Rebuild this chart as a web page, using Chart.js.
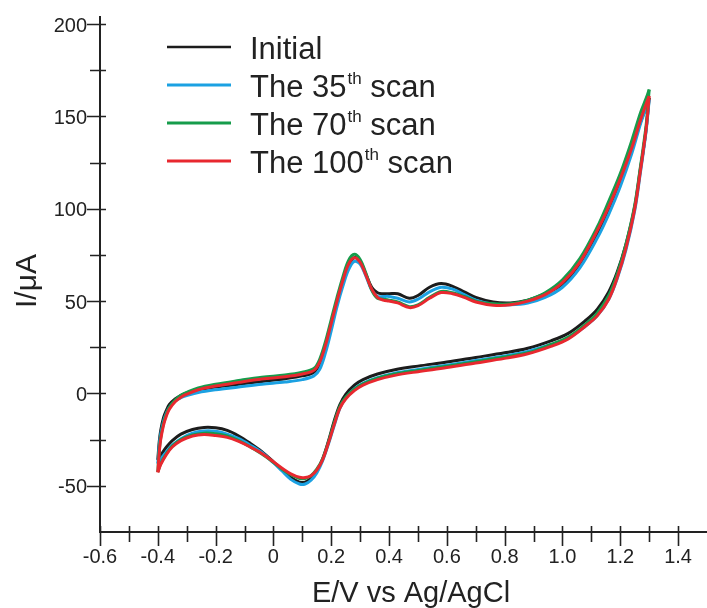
<!DOCTYPE html>
<html>
<head>
<meta charset="utf-8">
<script src="https://cdn.jsdelivr.net/npm/chart.js@4"></script>
<style>
  html, body { margin: 0; padding: 0; background: #fff; }
  canvas { display: block; }
</style>
</head>
<body>
<canvas id="cvChart" width="707" height="608"></canvas>
<script>
// potential sweep (V vs Ag/AgCl): anodic sweep -0.4 -> 1.3, then back to -0.4
var sweepForward = [-0.40, -0.395, -0.39, -0.38, -0.37, -0.36, -0.34, -0.32, -0.30, -0.26,
  -0.20, -0.12, -0.04, 0.04, 0.10, 0.14, 0.16, 0.18, 0.20, 0.22,
  0.24, 0.26, 0.28, 0.30, 0.32, 0.34, 0.36, 0.38, 0.40, 0.43,
  0.47, 0.50, 0.54, 0.58, 0.62, 0.66, 0.70, 0.76, 0.82, 0.88,
  0.94, 1.00, 1.06, 1.12, 1.16, 1.20, 1.24, 1.27, 1.29, 1.30];
var sweepReverse = [1.30, 1.29, 1.28, 1.27, 1.25, 1.22, 1.19, 1.16, 1.12, 1.08,
  1.02, 0.96, 0.88, 0.80, 0.70, 0.60, 0.50, 0.42, 0.36, 0.31,
  0.28, 0.25, 0.23, 0.21, 0.19, 0.17, 0.15, 0.13, 0.11, 0.09,
  0.06, 0.03, 0.00, -0.04, -0.08, -0.12, -0.16, -0.20, -0.24, -0.28,
  -0.32, -0.35, -0.37, -0.39, -0.40];

// current in uA
var initialFwd = [-36, -26, -20, -13, -9, -6, -3, -1, 0.3, 2,
  3.5, 5, 6.5, 8, 9.5, 11.5, 16, 25, 37, 49,
  60, 69, 73.5, 71.5, 64.5, 57.5, 54.5, 54, 54, 54,
  51.5, 53, 57.5, 59.5, 58, 55, 52, 49.5, 49, 50.5,
  54, 59, 70, 86, 99, 114, 132, 147, 155, 160];
var initialRev = [160, 144, 132, 122, 101, 81, 66, 55, 45.5, 39.5,
  32.5, 28.5, 24.5, 22, 19.5, 17, 14.8, 12.8, 10.5, 7.5,
  4.5, -0.5, -6, -15, -26, -35.5, -42, -46, -48, -48,
  -45.5, -41.5, -37, -31.5, -27, -23, -20, -18.6, -18.4, -19.5,
  -22, -25.5, -29, -33.5, -36];

var scan35Fwd = [-38, -28, -22, -15, -10.5, -7.5, -4, -2.3, -1.2, 0.5,
  2, 3.5, 5, 6.2, 7.5, 9.5, 13, 22, 34, 47,
  58, 67, 71.5, 70, 63.5, 56, 52.5, 52.5, 52.5, 51.5,
  49.5, 51, 55, 57.5, 56.5, 53.5, 50.5, 48.3, 48, 49,
  52, 57.5, 68, 84, 97, 112, 130, 146, 155, 159];
var scan35Rev = [159, 143, 131, 120, 99, 78, 62.5, 51, 42, 36.5,
  30, 26.5, 22.8, 20.3, 17.8, 15.3, 13, 11, 8.5, 5.5,
  2.5, -2.5, -8, -17.5, -27.5, -36.5, -43, -47, -49, -49,
  -46.5, -42, -37.5, -32, -28, -24.5, -22, -20.5, -20.3, -21.5,
  -24.5, -28, -31.5, -35.5, -38];

var scan70Fwd = [-42.5, -31, -24, -16, -11, -7.5, -3.5, -1, 0.6, 3,
  5, 7, 8.8, 10, 11.5, 13.5, 18.5, 28, 40, 52,
  63, 72, 75.3, 72.5, 65, 56, 51.5, 51, 50.5, 49.5,
  47, 48, 52, 55.2, 54.5, 52.5, 50, 48.5, 48.5, 50.5,
  54.5, 61.5, 73, 90, 104, 119, 137, 152, 160, 164.5];
var scan70Rev = [164.5, 146, 134, 123, 102, 81, 65, 53, 43.5, 37.5,
  30.5, 26.5, 22, 19.7, 17.2, 14.8, 12.5, 10.5, 8.2, 5.2,
  2.3, -2, -7, -16, -26.5, -35.5, -41, -44.5, -46, -46,
  -44, -41, -37.3, -32.8, -29, -25.5, -23, -21.8, -21.5, -22.5,
  -25, -28.5, -32.5, -38, -42.5];

var scan100Fwd = [-42.7, -32, -25, -17, -12, -8.5, -4.5, -2, -0.4, 2,
  4, 6, 7.8, 9, 10.5, 12.5, 17, 26, 38, 50,
  61, 70, 73.5, 71, 64, 56.5, 52, 50.5, 50, 49,
  46.5, 47.5, 51.5, 54.6, 54, 52, 49.5, 47.8, 48, 50,
  53.5, 60, 71, 88, 101, 116, 133, 148, 157, 161];
var scan100Rev = [161, 144, 132, 121, 100, 79, 63, 51, 42, 36.5,
  29.5, 25.5, 21.5, 19, 16.5, 14, 11.8, 9.8, 7.5, 4.5,
  1.5, -3, -8, -17, -27, -36, -41.5, -44.5, -45.5, -45.4,
  -43.5, -40.5, -37, -32.5, -29, -26, -23.8, -22.8, -22.2, -23,
  -25.5, -29, -33, -38.5, -42.7];

var seriesLabels = ['Initial', 'The 35th scan', 'The 70th scan', 'The 100th scan'];
var seriesColors = ['#1c1c1c', '#1ba1e2', '#169c4b', '#e8282f'];

var xTicks = [-0.6, -0.4, -0.2, 0, 0.2, 0.4, 0.6, 0.8, 1.0, 1.2, 1.4];
var xTickLabels = ['-0.6', '-0.4', '-0.2', '0', '0.2', '0.4', '0.6', '0.8', '1.0', '1.2', '1.4'];
var yTicks = [-50, 0, 50, 100, 150, 200];

var FONT = "'Liberation Sans', Arial, sans-serif";

function branch(potentials, currents) {
  return potentials.map(function (e, i) { return { x: e, y: currents[i] }; });
}

var scans = [
  [initialFwd, initialRev],
  [scan35Fwd, scan35Rev],
  [scan70Fwd, scan70Rev],
  [scan100Fwd, scan100Rev]
];

// each scan = two datasets (forward + reverse) so the turning points stay sharp
var datasets = [];
scans.forEach(function (s, i) {
  [branch(sweepForward, s[0]), branch(sweepReverse, s[1])].forEach(function (pts) {
    datasets.push({
      label: seriesLabels[i],
      data: pts,
      showLine: true,
      borderColor: seriesColors[i],
      backgroundColor: seriesColors[i],
      borderWidth: 3,
      pointRadius: 0,
      tension: 0.35,
      order: 4 - i
    });
  });
});

// axes, ticks, titles and legend are drawn by hand
var cvFrame = {
  id: 'cvFrame',
  afterDraw: function (chart) {
    var ctx = chart.ctx;
    var xs = chart.scales.x, ys = chart.scales.y;
    var x0 = xs.getPixelForValue(-0.6);
    var y0 = ys.getPixelForValue(-75);
    var v, p;

    ctx.save();
    ctx.strokeStyle = '#222';
    ctx.lineWidth = 2;
    ctx.beginPath();
    ctx.moveTo(x0, ys.getPixelForValue(200) - 8);
    ctx.lineTo(x0, y0);
    ctx.lineTo(chart.width, y0);
    ctx.stroke();

    ctx.lineWidth = 1.6;
    ctx.beginPath();
    // y ticks
    for (v = -25; v <= 175; v += 50) {
      p = Math.round(ys.getPixelForValue(v)) + 0.5;
      ctx.moveTo(x0 - 10, p); ctx.lineTo(x0 + 6, p);
    }
    yTicks.forEach(function (t) {
      p = Math.round(ys.getPixelForValue(t)) + 0.5;
      ctx.moveTo(x0 - 13, p); ctx.lineTo(x0 + 6, p);
    });
    // x ticks
    for (v = -0.5; v < 1.45; v += 0.2) {
      p = Math.round(xs.getPixelForValue(v)) + 0.5;
      ctx.moveTo(p, y0 - 6); ctx.lineTo(p, y0 + 10);
    }
    xTicks.forEach(function (t) {
      p = Math.round(xs.getPixelForValue(t)) + 0.5;
      ctx.moveTo(p, y0 - 6); ctx.lineTo(p, y0 + 14);
    });
    ctx.stroke();

    ctx.fillStyle = '#222';
    ctx.font = '20px ' + FONT;
    ctx.textAlign = 'right';
    ctx.textBaseline = 'alphabetic';
    yTicks.forEach(function (t) {
      ctx.fillText(String(t), x0 - 13, ys.getPixelForValue(t) + 7.5);
    });
    ctx.textAlign = 'center';
    xTicks.forEach(function (t, i) {
      ctx.fillText(xTickLabels[i], xs.getPixelForValue(t), y0 + 31);
    });

    ctx.font = '29px ' + FONT;
    ctx.fillText('E/V vs Ag/AgCl', 411, 602);
    ctx.save();
    ctx.translate(36, 281);
    ctx.rotate(-Math.PI / 2);
    ctx.font = '30px ' + FONT;
    ctx.fillText('I/\u03bcA', 0, 0);
    ctx.restore();

    // legend
    ctx.textAlign = 'left';
    seriesLabels.forEach(function (label, i) {
      var ly = 47 + i * 38;
      ctx.strokeStyle = seriesColors[i];
      ctx.lineWidth = i === 0 ? 2.5 : 3;
      ctx.beginPath();
      ctx.moveTo(167, ly); ctx.lineTo(231, ly);
      ctx.stroke();

      var m = /^(.*?\d+)(th)(.*)$/.exec(label);
      var tx = 250, base = ly + 11.5;
      ctx.font = '31px ' + FONT;
      if (!m) {
        ctx.fillText(label, tx, base);
        return;
      }
      ctx.fillText(m[1], tx, base);
      tx += ctx.measureText(m[1]).width + 1;
      ctx.font = '17px ' + FONT;
      ctx.fillText(m[2], tx, base - 13);
      tx += ctx.measureText(m[2]).width;
      ctx.font = '31px ' + FONT;
      ctx.fillText(m[3], tx, base);
    });
    ctx.restore();
  }
};

new Chart(document.getElementById('cvChart').getContext('2d'), {
  type: 'scatter',
  data: { datasets: datasets },
  options: {
    responsive: false,
    animation: false,
    layout: { padding: { left: 100, top: 24, right: 0, bottom: 76 } },
    scales: {
      x: { type: 'linear', min: -0.6, max: 1.5, display: false },
      y: { type: 'linear', min: -75, max: 200, display: false }
    },
    plugins: {
      legend: { display: false },
      tooltip: { enabled: false }
    }
  },
  plugins: [cvFrame]
});
</script>
</body>
</html>
